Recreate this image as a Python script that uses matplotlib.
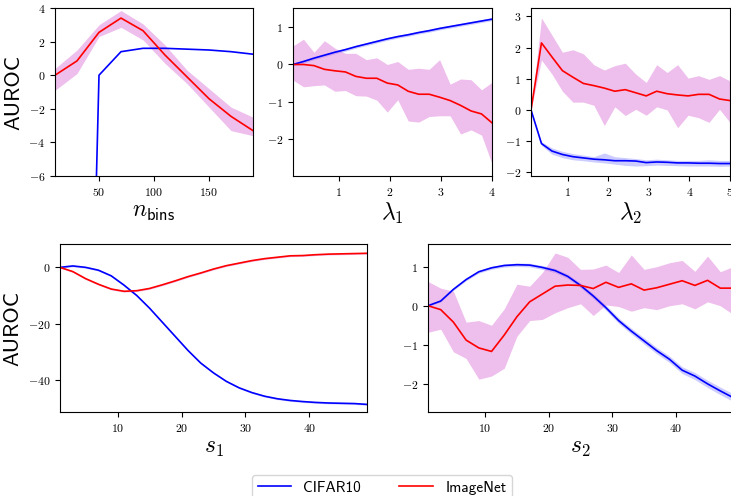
import numpy as np
import matplotlib
matplotlib.use("Agg")
import matplotlib.pyplot as plt

plt.rcParams['font.family'] = 'serif'
plt.rcParams['font.serif'] = ['cmr10']
plt.rcParams['mathtext.fontset'] = 'cm'
plt.rcParams['axes.formatter.use_mathtext'] = True
plt.rcParams['axes.unicode_minus'] = True

# --- n_bins panel
nbins_x = [10, 30, 50, 70, 90, 110, 130, 150, 170, 190]
nbins_cifar = [-80, -52, 0.0, 1.4, 1.6, 1.6, 1.55, 1.5, 1.4, 1.25]
nbins_imnet = [0.0, 0.85, 2.55, 3.4, 2.65, 1.2, -0.1, -1.4, -2.45, -3.3]
nbins_imnet_lo = [-0.9, 0.1, 2.3, 2.85, 2.1, 0.7, -0.5, -1.9, -3.3, -3.6]
nbins_imnet_hi = [0.4, 1.5, 3.0, 3.85, 3.05, 1.8, 0.3, -0.8, -1.9, -2.5]

# --- lambda_1 panel
lam1_x = np.linspace(0.1, 4, 20)
lam1_cifar = [0, 0.08, 0.17, 0.25, 0.33, 0.40, 0.48, 0.55, 0.62, 0.69,
              0.75, 0.80, 0.86, 0.91, 0.97, 1.02, 1.07, 1.12, 1.17, 1.22]
lam1_imnet = [0, 0.0, -0.03, -0.13, -0.17, -0.2, -0.32, -0.37, -0.37, -0.5,
              -0.55, -0.72, -0.8, -0.8, -0.88, -0.97, -1.1, -1.25, -1.33, -1.57]
lam1_imnet_hi = [0.5, 0.68, 0.33, 0.64, 0.44, 0.3, 0.3, 0.13, 0.18, 0.0,
                 0.08, -0.13, -0.1, -0.13, 0.13, -0.53, -0.39, -0.41, -0.68, -0.48]
lam1_imnet_lo = [-0.42, -0.6, -0.57, -0.55, -0.72, -0.7, -0.84, -0.85, -0.96, -1.28,
                 -0.95, -1.52, -1.55, -1.4, -1.38, -1.38, -1.87, -1.76, -1.9, -2.67]

# --- lambda_2 panel
lam2_x = np.linspace(0.1, 5, 20)
lam2_cifar = [0, -1.08, -1.32, -1.43, -1.5, -1.54, -1.58, -1.6, -1.63, -1.63,
              -1.64, -1.69, -1.67, -1.68, -1.7, -1.7, -1.71, -1.71, -1.72, -1.72]
lam2_cifar_hi = [0, -1.02, -1.22, -1.33, -1.4, -1.45, -1.5, -1.38, -1.5, -1.53,
                 -1.56, -1.6, -1.58, -1.6, -1.62, -1.62, -1.62, -1.6, -1.62, -1.62]
lam2_cifar_lo = [0, -1.14, -1.42, -1.53, -1.6, -1.63, -1.67, -1.7, -1.74, -1.78,
                 -1.8, -1.79, -1.77, -1.78, -1.79, -1.8, -1.8, -1.8, -1.81, -1.8]
lam2_imnet = [0, 2.15, 1.7, 1.26, 1.05, 0.85, 0.78, 0.7, 0.6, 0.65,
              0.55, 0.45, 0.6, 0.52, 0.48, 0.45, 0.5, 0.5, 0.35, 0.3]
lam2_imnet_hi = [0, 2.95, 2.4, 1.85, 1.93, 1.8, 1.45, 1.28, 1.42, 1.5,
                 1.15, 0.88, 1.45, 1.2, 1.45, 1.02, 1.1, 0.98, 1.1, 0.93]
lam2_imnet_lo = [0, 1.6, 1.15, 0.6, 0.25, 0.25, 0.15, -0.5, 0.1, -0.18,
                 0.02, -0.17, 0.1, 0.0, -0.57, -0.17, -0.25, -0.4, 0.02, -0.4]

# --- s_1 panel
s_x = np.arange(1, 50, 2)
s1_cifar = [0, 0.5, 0, -1.0, -3.0, -6.3, -10.0, -14.5, -19.5, -24.5, -29.5, -34, -37.5,
            -40.5, -42.8, -44.5, -45.8, -46.7, -47.3, -47.7, -48.0, -48.2, -48.3, -48.4, -48.7]
s1_imnet = [0, -1.5, -4, -6, -7.7, -8.5, -8.3, -7.5, -6.2, -4.8, -3.3, -2.0, -0.6,
            0.6, 1.5, 2.4, 3.1, 3.6, 4.1, 4.2, 4.5, 4.7, 4.8, 4.9, 5.0]

# --- s_2 panel
s2_cifar = [0, 0.12, 0.42, 0.67, 0.87, 0.97, 1.03, 1.05, 1.04, 0.98, 0.9, 0.75, 0.52,
            0.25, -0.05, -0.38, -0.65, -0.9, -1.15, -1.37, -1.65, -1.8, -2.0, -2.18, -2.35]
s2_imnet = [0, -0.1, -0.42, -0.88, -1.08, -1.17, -0.75, -0.28, 0.1, 0.3, 0.5, 0.53, 0.52,
            0.44, 0.6, 0.47, 0.56, 0.4, 0.46, 0.55, 0.64, 0.52, 0.65, 0.45, 0.45]
s2_imnet_hi = [0.62, 0.45, 0.37, -0.42, -0.38, -0.5, -0.08, 0.55, 0.5, 0.85, 1.35, 1.24, 0.93,
               0.94, 1.04, 0.85, 1.3, 0.93, 1.0, 1.1, 1.16, 0.88, 1.27, 0.87, 1.0]
s2_imnet_lo = [-0.68, -0.6, -1.18, -1.35, -1.88, -1.8, -1.6, -0.78, -0.38, -0.35, -0.18, -0.05, 0.05,
               -0.25, 0.02, -0.02, -0.14, -0.05, -0.1, 0.0, 0.05, -0.08, 0.1, 0.0, -0.22]

W, H = 731, 496
fig = plt.figure(figsize=(W / 100, H / 100), dpi=100)


def box(l, t, w, h):
    return [l / W, 1 - (t + h) / H, w / W, h / H]


ax1 = fig.add_axes(box(55, 8, 198, 168))
ax2 = fig.add_axes(box(293, 8, 199, 168))
ax3 = fig.add_axes(box(531, 8, 199, 168))
ax4 = fig.add_axes(box(60, 244, 307, 168))
ax5 = fig.add_axes(box(428, 244, 305, 168))

blue_band = dict(color='blue', alpha=0.2, lw=0)
red_band = dict(color='orchid', alpha=0.45, lw=0)
lw = 1.2

# n_bins
ax1.fill_between(nbins_x, nbins_imnet_lo, nbins_imnet_hi, **red_band)
ax1.plot(nbins_x, nbins_cifar, color='blue', lw=lw, label='CIFAR10')
ax1.plot(nbins_x, nbins_imnet, color='red', lw=lw, label='ImageNet')
ax1.set_xlim(10, 190)
ax1.set_ylim(-6, 4)
ax1.set_xticks([50, 100, 150])
ax1.set_xlabel(r'$n_{\mathsf{bins}}$', fontsize=17)

# lambda_1
ax2.fill_between(lam1_x, np.array(lam1_cifar) - 0.04, np.array(lam1_cifar) + 0.04, **blue_band)
ax2.fill_between(lam1_x, lam1_imnet_lo, lam1_imnet_hi, **red_band)
ax2.plot(lam1_x, lam1_cifar, color='blue', lw=lw)
ax2.plot(lam1_x, lam1_imnet, color='red', lw=lw)
ax2.set_xlim(0.1, 4)
ax2.set_ylim(-3.0, 1.52)
ax2.set_xticks([1, 2, 3, 4])
ax2.set_yticks([-2, -1, 0, 1])
ax2.set_xlabel(r'$\lambda_1$', fontsize=17)

# lambda_2
ax3.fill_between(lam2_x, lam2_cifar_lo, lam2_cifar_hi, **blue_band)
ax3.fill_between(lam2_x, lam2_imnet_lo, lam2_imnet_hi, **red_band)
ax3.plot(lam2_x, lam2_cifar, color='blue', lw=lw)
ax3.plot(lam2_x, lam2_imnet, color='red', lw=lw)
ax3.set_xlim(0.1, 5)
ax3.set_ylim(-2.12, 3.27)
ax3.set_xticks([1, 2, 3, 4, 5])
ax3.set_yticks([-2, -1, 0, 1, 2, 3])
ax3.set_xlabel(r'$\lambda_2$', fontsize=17)

# s_1
ax4.fill_between(s_x, np.array(s1_imnet) - 0.3, np.array(s1_imnet) + 0.3, **red_band)
ax4.fill_between(s_x, np.array(s1_cifar) - 0.3, np.array(s1_cifar) + 0.3, **blue_band)
ax4.plot(s_x, s1_cifar, color='blue', lw=lw)
ax4.plot(s_x, s1_imnet, color='red', lw=lw)
ax4.set_xlim(1, 49)
ax4.set_ylim(-51.4, 8.3)
ax4.set_xticks([10, 20, 30, 40])
ax4.set_yticks([-40, -20, 0])
ax4.set_xlabel(r'$s_1$', fontsize=17)

# s_2
s2c = np.array(s2_cifar)
spread = np.linspace(0.02, 0.1, len(s2c))
ax5.fill_between(s_x, s2c - spread, s2c + spread, **blue_band)
ax5.fill_between(s_x, s2_imnet_lo, s2_imnet_hi, **red_band)
ax5.plot(s_x, s2_cifar, color='blue', lw=lw)
ax5.plot(s_x, s2_imnet, color='red', lw=lw)
ax5.set_xlim(1, 49)
ax5.set_ylim(-2.72, 1.58)
ax5.set_xticks([10, 20, 30, 40])
ax5.set_yticks([-2, -1, 0, 1])
ax5.set_xlabel(r'$s_2$', fontsize=17)

for ax in (ax1, ax2, ax3, ax4, ax5):
    ax.tick_params(labelsize=8.5, length=3.5, width=0.8)
    ax.xaxis.labelpad = 2

ax1.set_ylabel('AUROC', fontsize=16, family='cmss10')
ax4.set_ylabel('AUROC', fontsize=16, family='cmss10')

handles, labels = ax1.get_legend_handles_labels()
fig.legend(handles, labels, loc='upper center', bbox_to_anchor=(382 / W, 1 - 467 / H),
           ncol=2, prop={'family': 'cmss10', 'size': 11}, handlelength=2.2,
           columnspacing=2.5, frameon=True)

fig.savefig('out.png', dpi=100)
